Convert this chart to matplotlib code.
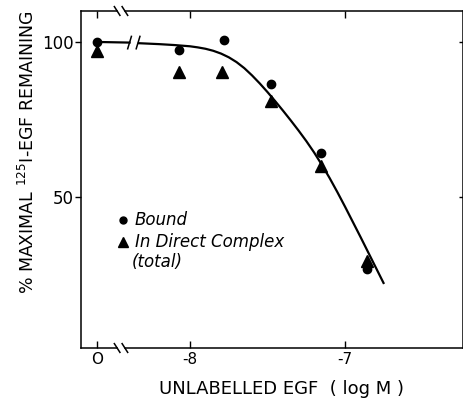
import matplotlib
matplotlib.use("Agg")
import matplotlib.pyplot as plt
import matplotlib.transforms as mtransforms

# position used on the log axis for the "0" (no unlabelled EGF) point
x_zero = -8.6

bound_x = [x_zero, -8.07, -7.78, -7.48, -7.155, -6.86]
bound_y = [100.0, 97.5, 100.7, 86.4, 64.0, 26.7]

total_x = [x_zero, -8.07, -7.795, -7.48, -7.155, -6.86]
total_y = [97.1, 90.3, 90.3, 81.0, 59.8, 29.2]

# fitted curve (drawn in two pieces around the break)
curve1_x = [x_zero, -8.39]
curve1_y = [100.0, 99.8]
curve2_x = [-8.33, -8.2, -8.1, -8.0, -7.95, -7.9, -7.85, -7.8, -7.75, -7.7,
            -7.65, -7.6, -7.55, -7.5, -7.45, -7.4, -7.35, -7.3, -7.25, -7.2,
            -7.15, -7.1, -7.05, -7.0, -6.95, -6.9, -6.85, -6.8, -6.752]
curve2_y = [99.6, 99.3, 99.0, 98.6, 98.25, 97.8, 97.15, 96.25, 95.05, 93.5,
            91.55, 89.2, 86.6, 83.8, 80.85, 77.8, 74.65, 71.4, 68.0, 64.35,
            60.35, 56.1, 51.55, 46.8, 41.9, 37.0, 32.0, 27.0, 22.2]

xticks = [x_zero, -8, -7]
xticklabels = ["O", "-8", "-7"]
yticks = [50, 100]

plt.rcParams['font.family'] = ['DejaVu Sans']

fig = plt.figure(figsize=[4.64, 3.98], dpi=100)
ax = fig.add_axes([0.1746, 0.1256, 0.8234, 0.8468])

ax.set_xlim(-8.703, -6.239)
ax.set_ylim(1.2, 110)

ax.plot(curve1_x, curve1_y, color='black', lw=1.6)
ax.plot(curve2_x, curve2_y, color='black', lw=1.6)

ax.plot(total_x, total_y, linestyle='none', marker='^', color='black',
        markersize=8)
ax.plot(bound_x, bound_y, linestyle='none', marker='o', color='black',
        markersize=6)

# axis break: draw top/bottom spines by hand with a gap
for s in ['top', 'bottom']:
    ax.spines[s].set_visible(False)
for sp in ['left', 'right']:
    ax.spines[sp].set_linewidth(1.1)

trans = mtransforms.blended_transform_factory(ax.transData, ax.transAxes)
gap_l, gap_r = -8.47, -8.42
for yy in [0, 1]:
    ax.plot([-8.703, gap_l], [yy, yy], color='black', lw=1.1,
            transform=trans, clip_on=False)
    ax.plot([gap_r, -6.239], [yy, yy], color='black', lw=1.1,
            transform=trans, clip_on=False)
    for gx in [gap_l, gap_r]:
        ax.plot([gx - 0.018, gx + 0.018], [yy + 0.013, yy - 0.013],
                color='black', lw=1.1, transform=trans, clip_on=False)

# break marks on the curve
for gx in [-8.39, -8.335]:
    ax.plot([gx - 0.012, gx + 0.012], [97.8, 101.8], color='black', lw=1.1)

ax.set_xticks(xticks)
ax.set_xticklabels(xticklabels, fontsize=11)
ax.set_yticks(yticks)
ax.set_yticklabels([str(v) for v in yticks], fontsize=12)
ax.tick_params(axis='x', direction='in', length=5, width=1,
               top=True, bottom=True, pad=3)
ax.tick_params(axis='y', direction='out', length=4, width=1, pad=1)
ax.tick_params(axis='y', which='major', right=True)

# right-hand y ticks point inwards
for t in ax.yaxis.get_major_ticks():
    t.tick2line.set_marker(matplotlib.lines.TICKLEFT)
    t.tick2line.set_markersize(3)

ax.set_xlabel("UNLABELLED EGF  ( log M )", fontsize=13)
ax.xaxis.set_label_coords(0.526, -0.095)
ax.set_ylabel(r"% MAXIMAL $^{125}$I-EGF REMAINING", fontsize=12.5)
ax.yaxis.set_label_coords(-0.112, 0.58)

# legend written as text with marker symbols
ax.plot([-8.43], [42.5], marker='o', color='black', markersize=5,
        linestyle='none')
ax.plot([-8.43], [35.5], marker='^', color='black', markersize=7,
        linestyle='none')
ax.text(-8.355, 42.5, "Bound", fontsize=12, style='italic', va='center')
ax.text(-8.355, 35.5, "In Direct Complex", fontsize=12, style='italic',
        va='center')
ax.text(-8.374, 29.0, "(total)", fontsize=12, style='italic', va='center')

fig.savefig("out.png", dpi=100)
